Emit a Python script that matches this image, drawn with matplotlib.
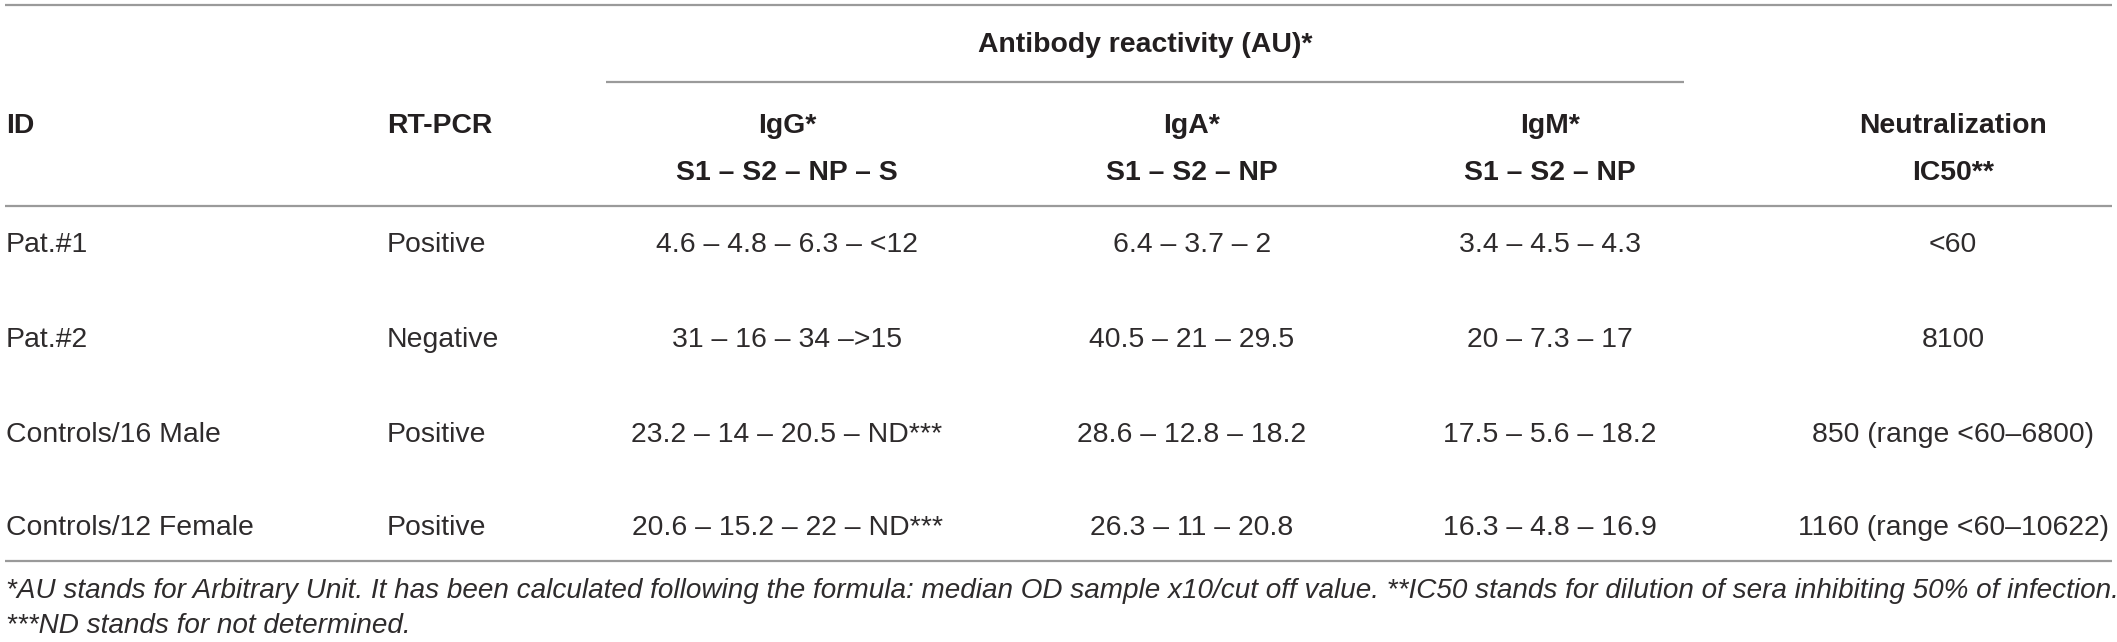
import matplotlib.pyplot as plt

# table content
ids = ["Pat.#1", "Pat.#2", "Controls/16 Male", "Controls/12 Female"]
rt_pcr = ["Positive", "Negative", "Positive", "Positive"]
igg = ["4.6 – 4.8 – 6.3 – <12", "31 – 16 – 34 –>15",
       "23.2 – 14 – 20.5 – ND***", "20.6 – 15.2 – 22 – ND***"]
iga = ["6.4 – 3.7 – 2", "40.5 – 21 – 29.5", "28.6 – 12.8 – 18.2", "26.3 – 11 – 20.8"]
igm = ["3.4 – 4.5 – 4.3", "20 – 7.3 – 17", "17.5 – 5.6 – 18.2", "16.3 – 4.8 – 16.9"]
neutral = ["<60", "8100", "850 (range <60–6800)", "1160 (range <60–10622)"]

group_header = "Antibody reactivity (AU)*"
col_headers = [("ID", ""), ("RT-PCR", ""), ("IgG*", "S1 – S2 – NP – S"),
               ("IgA*", "S1 – S2 – NP"), ("IgM*", "S1 – S2 – NP"),
               ("Neutralization", "IC50**")]
footnotes = [
    "*AU stands for Arbitrary Unit. It has been calculated following the formula: "
    "median OD sample x10/cut off value. **IC50 stands for dilution of sera inhibiting 50% of infection.",
    "***ND stands for not determined.",
]

W, H = 2117, 642
DPI = 100
FS = 20.4          # ~28 px
TXT = "#231f20"
BODY = "#2e2b2c"
RULE = "#9a9a9a"
plt.rcParams['font.family'] = ['Liberation Sans', 'DejaVu Sans']

fig = plt.figure(figsize=(W / DPI, H / DPI), dpi=DPI)
ax = fig.add_axes([0, 0, 1, 1])
ax.set_xlim(0, W)
ax.set_ylim(H, 0)
ax.axis('off')

# column anchors (x, alignment)
cols = [(6, 'left'), (387, 'left'), (787, 'center'), (1192, 'center'),
        (1550, 'center'), (1953, 'center')]
row_base = [252, 347, 442, 535]

# rules
for y in (5, 206, 561):
    ax.plot([5, 2112], [y, y], color=RULE, lw=1.6, solid_capstyle='butt')
ax.plot([606, 1684], [82, 82], color=RULE, lw=1.6, solid_capstyle='butt')

# headers
ax.text(1145, 52, group_header, ha='center', va='baseline', fontsize=FS,
        fontweight='bold', color=TXT)
for (x, ha), (h1, h2) in zip(cols, col_headers):
    ax.text(x, 133, h1, ha=ha, va='baseline', fontsize=FS, fontweight='bold', color=TXT)
    if h2:
        ax.text(x, 180, h2, ha=ha, va='baseline', fontsize=FS, fontweight='bold', color=TXT)

# body
columns = [ids, rt_pcr, igg, iga, igm, neutral]
for (x, ha), values in zip(cols, columns):
    for y, v in zip(row_base, values):
        ax.text(x, y, v, ha=ha, va='baseline', fontsize=FS, color=BODY)

# footnotes
for y, note in zip((598, 633), footnotes):
    ax.text(6, y, note, ha='left', va='baseline', fontsize=20.1,
            style='italic', color=BODY)

fig.savefig("out.png", dpi=DPI)
